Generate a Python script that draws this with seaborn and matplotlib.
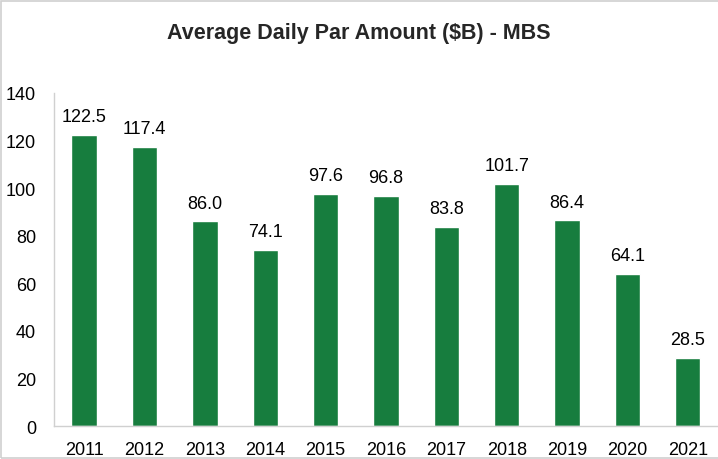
import matplotlib

matplotlib.use("Agg")

import matplotlib.pyplot as plt
import pandas as pd
import seaborn as sns
from matplotlib.patches import Rectangle

YEARS = ["2011", "2012", "2013", "2014", "2015", "2016", "2017", "2018", "2019", "2020", "2021"]
PAR_AMOUNT = [122.5, 117.4, 86.0, 74.1, 97.6, 96.8, 83.8, 101.7, 86.4, 64.1, 28.5]
Y_TICKS = [0, 20, 40, 60, 80, 100, 120, 140]

BAR_COLOR = "#177D3E"
SPINE_COLOR = "#D0D0D0"

sns.set_style("white")
plt.rcParams["font.family"] = ["Liberation Sans", "DejaVu Sans"]

df = pd.DataFrame({"year": YEARS, "amount": PAR_AMOUNT})

fig = plt.figure(figsize=(7.18, 4.6), dpi=100)
ax = fig.add_axes([0.0752, 0.0717, 0.9248, 0.724])

sns.barplot(data=df, x="year", y="amount", color=BAR_COLOR, saturation=1,
            width=0.42, ax=ax)

ax.bar_label(ax.containers[0], fmt="%.1f", padding=7, fontsize=13, color="#000000")

ax.set_ylim(0, 140)
ax.set_yticks(Y_TICKS)
ax.set_xlim(-0.5, len(YEARS) - 0.5)
ax.set_xlabel("")
ax.set_ylabel("")
ax.tick_params(axis="both", length=0, labelsize=13, colors="#000000")
ax.tick_params(axis="y", pad=13)
ax.tick_params(axis="x", pad=11)

for side in ["top", "right"]:
    ax.spines[side].set_visible(False)
for side in ["left", "bottom"]:
    ax.spines[side].set_color(SPINE_COLOR)
    ax.spines[side].set_linewidth(1)

fig.text(0.5, 0.928, "Average Daily Par Amount ($B) - MBS", ha="center", va="center",
         fontsize=15.5, fontweight="bold")

fig.patches.append(Rectangle((0.002, 0.002), 1.2, 0.993, transform=fig.transFigure,
                             fill=False, edgecolor=SPINE_COLOR, linewidth=1.2))

fig.savefig("out.png", dpi=100)
